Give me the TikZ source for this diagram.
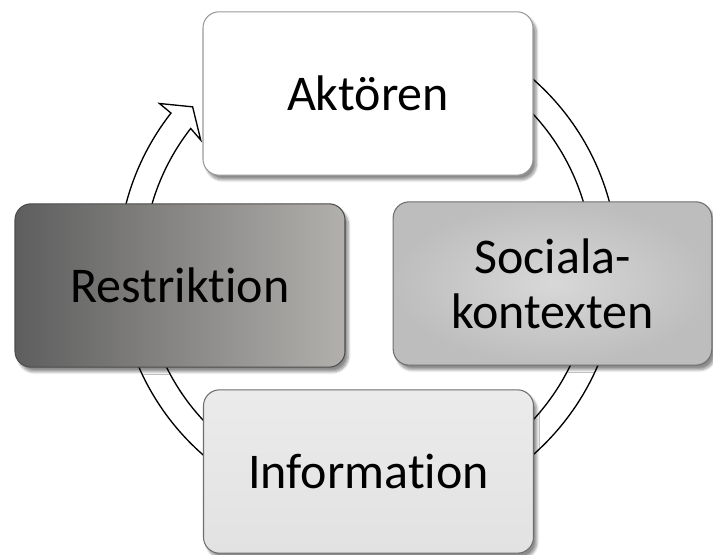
\documentclass[tikz,border=0pt]{standalone}
\usepackage{fontspec}
\setmainfont{Carlito}[Ligatures={NoCommon,NoContextual}]
\usepackage{xcolor}
\usepackage{tikz}
\usetikzlibrary{shadows.blur}

\definecolor{edge}{HTML}{6E6E6E}
\definecolor{resL}{HTML}{5E5E5E}
\definecolor{resR}{HTML}{B2B0AD}
\definecolor{socIn}{HTML}{D8D8D8}
\definecolor{socOut}{HTML}{BDBDBD}
\definecolor{infT}{HTML}{EBEBEB}
\definecolor{infB}{HTML}{E2E2E2}

\begin{document}
\begin{tikzpicture}[
  x=0.75pt,y=0.75pt,
  stage/.style={draw=edge,line width=0.8pt,rounded corners=12pt,align=center,
    minimum width=247.5pt,minimum height=122.5pt,
    font=\fontsize{37.5}{41}\selectfont,
    blur shadow={shadow xshift=2.5pt,shadow yshift=-3.5pt,shadow blur steps=8,shadow opacity=45}},
  ring/.style={draw=black,line width=1pt,fill=white,line join=miter}]
  \useasboundingbox (0,0) rectangle (713,554);
  % cycle arrow behind the boxes
  \begin{scope}[shift={(368,287)}]
    \draw[ring] (142:250) arc[start angle=142,end angle=470,radius=250]
      -- (470:225) arc[start angle=470,end angle=142,radius=225]
      -- (142.8:210) -- (137.6:237.5) -- (141.9:265) -- cycle;
  \end{scope}
  \node (akt) [stage,fill=white,draw=black!40] at (368,460.5) {Aktören};
  \node (soc) [stage,inner color=socIn,outer color=socOut,minimum width=239pt] at (552.5,270.5) {Sociala-\\kontexten};
  \node (inf) [stage,top color=infT,bottom color=infB] at (368.5,82.5) {Information};
  \node (res) [stage,left color=resL,right color=resR,draw=black!70] at (180,268.5) {Restriktion};
\end{tikzpicture}
\end{document}
